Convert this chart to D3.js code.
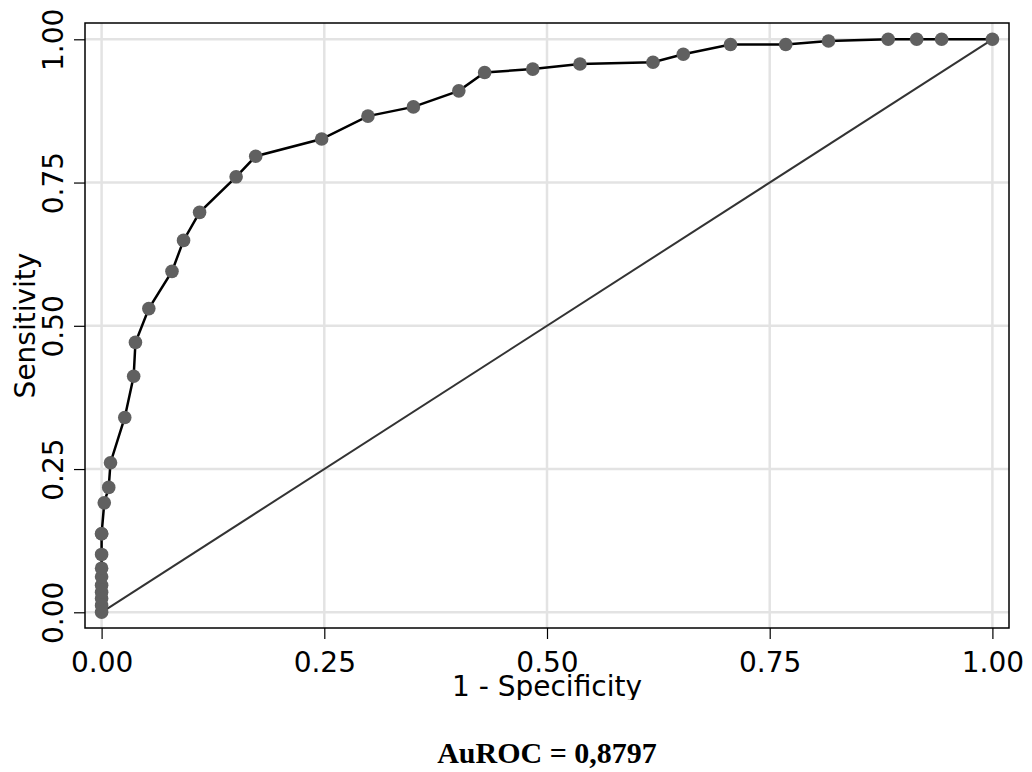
<!DOCTYPE html>
<html>
  <head>
    <title>ROC curve</title>
    <script src="https://d3js.org/d3.v7.min.js"></script>
    <style>
      body { margin: 0; background: #fff; }
      text { font-family: "DejaVu Sans", Verdana, sans-serif; }
    </style>
  </head>

  <body>
    <svg width="1032" height="772">
      <script type="text/javascript">
      // 1 - specificity and sensitivity
      var fpr = [0, 0, 0, 0, 0, 0, 0, 0, 0, 0,
                 0.003, 0.008, 0.010, 0.026, 0.036, 0.038, 0.053, 0.079, 0.092, 0.110,
                 0.151, 0.173, 0.247, 0.299, 0.350, 0.401, 0.430, 0.484, 0.537, 0.619,
                 0.653, 0.706, 0.768, 0.816, 0.883, 0.915, 0.943, 1];
      var tpr = [0, 0.012, 0.024, 0.035, 0.047, 0.062, 0.077, 0.101, 0.137, 0.137,
                 0.191, 0.218, 0.261, 0.340, 0.412, 0.471, 0.530, 0.595, 0.649, 0.698,
                 0.760, 0.796, 0.826, 0.866, 0.882, 0.910, 0.942, 0.948, 0.957, 0.960,
                 0.974, 0.991, 0.991, 0.997, 1, 1, 1, 1];
      var ticks = [0, 0.25, 0.5, 0.75, 1];
      var auroc = "AuROC = 0,8797";

      var svg = d3.select('svg');
      var frame = {left: 85, right: 1009, top: 23, bottom: 628};

      var x = d3.scaleLinear().domain([0, 1]).range([101.6, 992.4]);
      var y = d3.scaleLinear().domain([0, 1]).range([612.3, 39.3]);

      svg.append('rect').attr('width', 1032).attr('height', 772).attr('fill', '#fff');

      svg.append('clipPath').attr('id', 'cut')
        .append('rect').attr('width', 1032).attr('height', 700);
      var g = svg.append('g').attr('clip-path', 'url(#cut)');

      // grid
      g.selectAll('.vgrid').data(ticks).enter().append('line')
        .attr('x1', x).attr('x2', x)
        .attr('y1', frame.top).attr('y2', frame.bottom)
        .attr('stroke', '#e3e3e3').attr('stroke-width', 2.5);
      g.selectAll('.hgrid').data(ticks).enter().append('line')
        .attr('y1', y).attr('y2', y)
        .attr('x1', frame.left).attr('x2', frame.right)
        .attr('stroke', '#e3e3e3').attr('stroke-width', 2.5);

      // frame
      g.append('rect')
        .attr('x', frame.left).attr('y', frame.top)
        .attr('width', frame.right - frame.left).attr('height', frame.bottom - frame.top)
        .attr('fill', 'none').attr('stroke', '#000').attr('stroke-width', 1.5);

      // axes
      var xa = g.append('g')
        .attr('transform', 'translate(0,' + frame.bottom + ')')
        .call(d3.axisBottom(x).tickValues(ticks).tickSize(11).tickFormat(d3.format('.2f')));
      xa.select('.domain').remove();
      xa.selectAll('line').attr('stroke', '#000').attr('stroke-width', 1.2);
      xa.selectAll('text')
        .attr('y', 44).attr('dy', null)
        .attr('fill', '#000')
        .style('font-size', '28px')
        .style('font-family', '"DejaVu Sans", Verdana, sans-serif');

      var ya = g.append('g')
        .attr('transform', 'translate(' + frame.left + ',0)')
        .call(d3.axisLeft(y).tickValues(ticks).tickSize(11).tickFormat(d3.format('.2f')));
      ya.select('.domain').remove();
      ya.selectAll('line').attr('stroke', '#000').attr('stroke-width', 1.2);
      ya.selectAll('text')
        .attr('x', 0).attr('y', -22).attr('dy', null)
        .attr('transform', 'rotate(-90)')
        .attr('text-anchor', 'middle')
        .attr('fill', '#000')
        .style('font-size', '28px')
        .style('font-family', '"DejaVu Sans", Verdana, sans-serif');

      g.append('text')
        .attr('x', (frame.left + frame.right) / 2).attr('y', 696)
        .attr('text-anchor', 'middle')
        .style('font-size', '28px')
        .text('1 - Specificity');

      g.append('text')
        .attr('transform', 'translate(35,' + (frame.top + frame.bottom) / 2 + ') rotate(-90)')
        .attr('text-anchor', 'middle')
        .style('font-size', '28px')
        .text('Sensitivity');

      // reference diagonal
      g.append('line')
        .attr('x1', x(0)).attr('y1', y(0))
        .attr('x2', x(1)).attr('y2', y(1))
        .attr('stroke', '#333').attr('stroke-width', 2);

      // ROC curve
      var pts = fpr.map(function(d, i) { return [d, tpr[i]]; });
      g.append('path')
        .datum(pts)
        .attr('fill', 'none').attr('stroke', '#000').attr('stroke-width', 2.5)
        .attr('d', d3.line().x(function(d) { return x(d[0]); }).y(function(d) { return y(d[1]); }));

      g.selectAll('.dot').data(pts).enter().append('circle')
        .attr('cx', function(d) { return x(d[0]); })
        .attr('cy', function(d) { return y(d[1]); })
        .attr('r', 6.8)
        .attr('fill', '#606060');

      svg.append('text')
        .attr('x', 547).attr('y', 763)
        .attr('text-anchor', 'middle')
        .style('font-family', '"Liberation Serif", "Times New Roman", serif')
        .style('font-weight', 'bold')
        .style('font-size', '30px')
        .text(auroc);
      </script>
    </svg>
  </body>
</html>
